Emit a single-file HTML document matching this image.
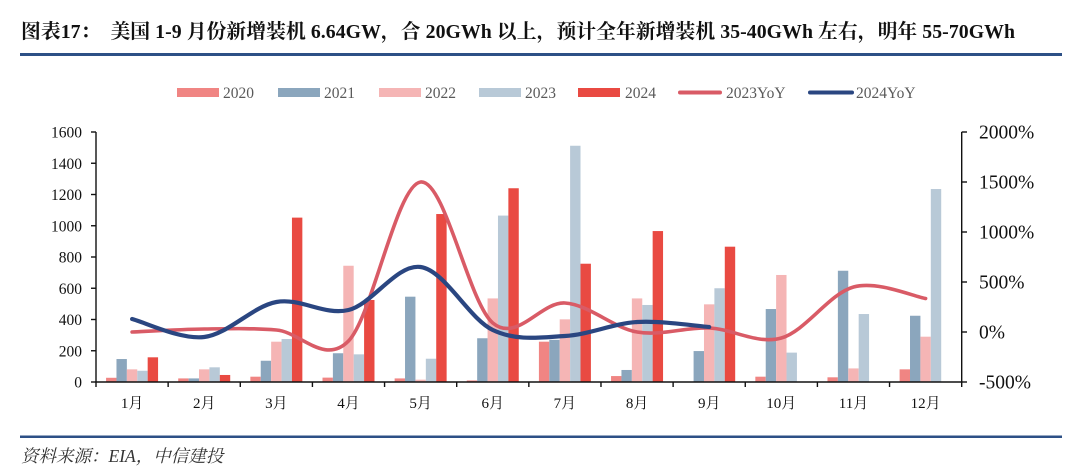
<!DOCTYPE html>
<html>
<head>
<meta charset="utf-8">
<style>
  html, body { margin:0; padding:0; background:#fff; }
  svg { display:block; }
  .serif { font-family: "Liberation Serif", "Noto Serif CJK SC", "Noto Sans CJK SC", serif; }
</style>
</head>
<body>
<svg width="1080" height="473" viewBox="0 0 1080 473" xmlns="http://www.w3.org/2000/svg">
  <rect x="0" y="0" width="1080" height="473" fill="#ffffff"/>

  <!-- Title -->
  <text class="serif" x="21" y="38" font-size="19.8" font-weight="bold" fill="#111" style="white-space:pre" textLength="994" lengthAdjust="spacing">图表17：  美国 1-9 月份新增装机 6.64GW，合 20GWh 以上，预计全年新增装机 35-40GWh 左右，明年 55-70GWh</text>
  <rect x="20" y="53" width="1042" height="3" fill="#2D5086"/>

  <!-- Legend -->
  <g class="serif" font-size="15.5" fill="#595959">
    <rect x="177" y="88" width="42" height="9" fill="#F08583"/>
    <text x="223" y="98">2020</text>
    <rect x="278" y="88" width="42" height="9" fill="#8BA6BD"/>
    <text x="324" y="98">2021</text>
    <rect x="379" y="88" width="42" height="9" fill="#F5B5B5"/>
    <text x="425" y="98">2022</text>
    <rect x="479" y="88" width="42" height="9" fill="#B8C9D7"/>
    <text x="525" y="98">2023</text>
    <rect x="578" y="88" width="42" height="9" fill="#E94A42"/>
    <text x="625" y="98">2024</text>
    <line x1="680" y1="92.5" x2="720" y2="92.5" stroke="#D95B66" stroke-width="4" stroke-linecap="round"/>
    <text x="726" y="98">2023YoY</text>
    <line x1="810" y1="92.5" x2="852" y2="92.5" stroke="#2A4681" stroke-width="4" stroke-linecap="round"/>
    <text x="856" y="98">2024YoY</text>
  </g>

  <!-- Bars -->
  <!-- 2020 -->
  <g fill="#F08583">
    <rect x="106.07" y="377.78" width="10.4" height="4.22"/>
    <rect x="178.21" y="378.41" width="10.4" height="3.59"/>
    <rect x="250.35" y="376.69" width="10.4" height="5.31"/>
    <rect x="322.49" y="377.62" width="10.4" height="4.38"/>
    <rect x="394.63" y="378.41" width="10.4" height="3.59"/>
    <rect x="466.77" y="380.44" width="10.4" height="1.56"/>
    <rect x="538.91" y="341.69" width="10.4" height="40.31"/>
    <rect x="611.05" y="376.06" width="10.4" height="5.94"/>
    <rect x="755.33" y="376.69" width="10.4" height="5.31"/>
    <rect x="827.47" y="377.31" width="10.4" height="4.69"/>
    <rect x="899.61" y="369.34" width="10.4" height="12.66"/>
  </g>
  <!-- 2021 -->
  <g fill="#8BA6BD">
    <rect x="116.47" y="359.03" width="10.4" height="22.97"/>
    <rect x="188.61" y="378.41" width="10.4" height="3.59"/>
    <rect x="260.75" y="360.75" width="10.4" height="21.25"/>
    <rect x="332.89" y="353.25" width="10.4" height="28.75"/>
    <rect x="405.03" y="296.69" width="10.4" height="85.31"/>
    <rect x="477.17" y="338.25" width="10.4" height="43.75"/>
    <rect x="549.31" y="339.81" width="10.4" height="42.19"/>
    <rect x="621.45" y="369.97" width="10.4" height="12.03"/>
    <rect x="693.59" y="351.06" width="10.4" height="30.94"/>
    <rect x="765.73" y="309.03" width="10.4" height="72.97"/>
    <rect x="837.87" y="270.75" width="10.4" height="111.25"/>
    <rect x="910.01" y="315.75" width="10.4" height="66.25"/>
  </g>
  <!-- 2022 -->
  <g fill="#F5B5B5">
    <rect x="126.87" y="369.34" width="10.4" height="12.66"/>
    <rect x="199.01" y="369.34" width="10.4" height="12.66"/>
    <rect x="271.15" y="341.69" width="10.4" height="40.31"/>
    <rect x="343.29" y="265.75" width="10.4" height="116.25"/>
    <rect x="415.43" y="379.66" width="10.4" height="2.34"/>
    <rect x="487.57" y="298.41" width="10.4" height="83.59"/>
    <rect x="559.71" y="319.34" width="10.4" height="62.66"/>
    <rect x="631.85" y="298.41" width="10.4" height="83.59"/>
    <rect x="703.99" y="304.34" width="10.4" height="77.66"/>
    <rect x="776.13" y="274.97" width="10.4" height="107.03"/>
    <rect x="848.27" y="368.41" width="10.4" height="13.59"/>
    <rect x="920.41" y="336.69" width="10.4" height="45.31"/>
  </g>
  <!-- 2023 -->
  <g fill="#B8C9D7">
    <rect x="137.27" y="370.75" width="10.4" height="11.25"/>
    <rect x="209.41" y="367.31" width="10.4" height="14.69"/>
    <rect x="281.55" y="339.03" width="10.4" height="42.97"/>
    <rect x="353.69" y="354.34" width="10.4" height="27.66"/>
    <rect x="425.83" y="358.72" width="10.4" height="23.28"/>
    <rect x="497.97" y="215.59" width="10.4" height="166.41"/>
    <rect x="570.11" y="145.75" width="10.4" height="236.25"/>
    <rect x="642.25" y="304.97" width="10.4" height="77.03"/>
    <rect x="714.39" y="288.25" width="10.4" height="93.75"/>
    <rect x="786.53" y="352.62" width="10.4" height="29.38"/>
    <rect x="858.67" y="314.03" width="10.4" height="67.97"/>
    <rect x="930.81" y="189.03" width="10.4" height="192.97"/>
  </g>
  <!-- 2024 -->
  <g fill="#E94A42">
    <rect x="147.67" y="357.31" width="10.4" height="24.69"/>
    <rect x="219.81" y="374.97" width="10.4" height="7.03"/>
    <rect x="291.95" y="217.62" width="10.4" height="164.38"/>
    <rect x="364.09" y="299.97" width="10.4" height="82.03"/>
    <rect x="436.23" y="214.03" width="10.4" height="167.97"/>
    <rect x="508.37" y="188.25" width="10.4" height="193.75"/>
    <rect x="580.51" y="263.72" width="10.4" height="118.28"/>
    <rect x="652.65" y="231.06" width="10.4" height="150.94"/>
    <rect x="724.79" y="246.69" width="10.4" height="135.31"/>
  </g>

  <!-- 2023YoY line -->
  <path fill="none" stroke="#D95B66" stroke-width="3.6" stroke-linecap="round" stroke-linejoin="round"
    d="M132.1,332 C144.1,331.5 180.2,329.3 204.2,329
       C228.3,328.67 252.3,328 276.4,330
       C300.4,332 324.4,365.67 348.5,341
       C372.5,316.33 396.6,185 420.6,182
       C444.7,179 468.7,302.83 492.8,323
       C516.8,343.17 540.9,301.5 564.9,303
       C589.0,304.5 613.0,327.83 637.1,332
       C661.1,336.17 685.2,327 709.2,328
       C733.2,329 757.3,344.83 781.3,338
       C805.4,331.17 829.4,293.58 853.5,287
       C877.5,280.42 913.6,296.58 925.6,298.5"/>

  <!-- 2024YoY line -->
  <path fill="none" stroke="#2A4681" stroke-width="4.2" stroke-linecap="round" stroke-linejoin="round"
    d="M132.1,319 C144.1,322 180.2,339.83 204.2,337
       C228.3,334.17 252.3,306.5 276.4,302
       C300.4,297.5 324.4,315.83 348.5,310
       C372.5,304.17 396.6,263.67 420.6,267
       C444.7,270.33 468.7,318.5 492.8,330
       C516.8,341.5 540.9,337.33 564.9,336
       C589.0,334.67 613.0,323.5 637.1,322
       C661.1,320.5 697.2,326.17 709.2,327"/>

  <!-- Axes -->
  <g stroke="#111" stroke-width="1.4" fill="none">
    <line x1="96" y1="132" x2="96" y2="382.5"/>
    <line x1="961.7" y1="132" x2="961.7" y2="382.5"/>
    <line x1="95.3" y1="382" x2="962.4" y2="382"/>
    <!-- left ticks -->
    <line x1="91" y1="132" x2="96" y2="132"/>
    <line x1="91" y1="163.25" x2="96" y2="163.25"/>
    <line x1="91" y1="194.5" x2="96" y2="194.5"/>
    <line x1="91" y1="225.75" x2="96" y2="225.75"/>
    <line x1="91" y1="257" x2="96" y2="257"/>
    <line x1="91" y1="288.25" x2="96" y2="288.25"/>
    <line x1="91" y1="319.5" x2="96" y2="319.5"/>
    <line x1="91" y1="350.75" x2="96" y2="350.75"/>
    <line x1="91" y1="382" x2="96" y2="382"/>
    <!-- right ticks -->
    <line x1="961.7" y1="132" x2="967" y2="132"/>
    <line x1="961.7" y1="182" x2="967" y2="182"/>
    <line x1="961.7" y1="232" x2="967" y2="232"/>
    <line x1="961.7" y1="282" x2="967" y2="282"/>
    <line x1="961.7" y1="332" x2="967" y2="332"/>
    <line x1="961.7" y1="382" x2="967" y2="382"/>
    <!-- x ticks -->
    <line x1="96" y1="382" x2="96" y2="387"/>
    <line x1="168.14" y1="382" x2="168.14" y2="387"/>
    <line x1="240.28" y1="382" x2="240.28" y2="387"/>
    <line x1="312.42" y1="382" x2="312.42" y2="387"/>
    <line x1="384.56" y1="382" x2="384.56" y2="387"/>
    <line x1="456.7" y1="382" x2="456.7" y2="387"/>
    <line x1="528.84" y1="382" x2="528.84" y2="387"/>
    <line x1="600.98" y1="382" x2="600.98" y2="387"/>
    <line x1="673.12" y1="382" x2="673.12" y2="387"/>
    <line x1="745.26" y1="382" x2="745.26" y2="387"/>
    <line x1="817.4" y1="382" x2="817.4" y2="387"/>
    <line x1="889.54" y1="382" x2="889.54" y2="387"/>
    <line x1="961.7" y1="382" x2="961.7" y2="387"/>
  </g>

  <!-- Left axis labels -->
  <g class="serif" font-size="15.5" fill="#111" text-anchor="end">
    <text x="82" y="137.5">1600</text>
    <text x="82" y="168.75">1400</text>
    <text x="82" y="200">1200</text>
    <text x="82" y="231.25">1000</text>
    <text x="82" y="262.5">800</text>
    <text x="82" y="293.75">600</text>
    <text x="82" y="325">400</text>
    <text x="82" y="356.25">200</text>
    <text x="82" y="387.5">0</text>
  </g>

  <!-- Right axis labels -->
  <g class="serif" font-size="19.5" fill="#111">
    <text x="979" y="138.5">2000%</text>
    <text x="979" y="188.5">1500%</text>
    <text x="979" y="238.5">1000%</text>
    <text x="979" y="288.5">500%</text>
    <text x="979" y="338.5">0%</text>
    <text x="979" y="388.5">-500%</text>
  </g>

  <!-- X labels -->
  <g class="serif" font-size="15" fill="#111" text-anchor="middle">
    <text x="132.1" y="408">1月</text>
    <text x="204.2" y="408">2月</text>
    <text x="276.4" y="408">3月</text>
    <text x="348.5" y="408">4月</text>
    <text x="420.6" y="408">5月</text>
    <text x="492.8" y="408">6月</text>
    <text x="564.9" y="408">7月</text>
    <text x="637.1" y="408">8月</text>
    <text x="709.2" y="408">9月</text>
    <text x="781.3" y="408">10月</text>
    <text x="853.5" y="408">11月</text>
    <text x="925.6" y="408">12月</text>
  </g>

  <!-- Footer -->
  <rect x="20" y="435.5" width="1042" height="2.5" fill="#2D5086"/>
  <text class="serif" x="21" y="462" font-size="17.5" font-style="italic" fill="#333">资料来源：EIA，中信建投</text>
</svg>
</body>
</html>
